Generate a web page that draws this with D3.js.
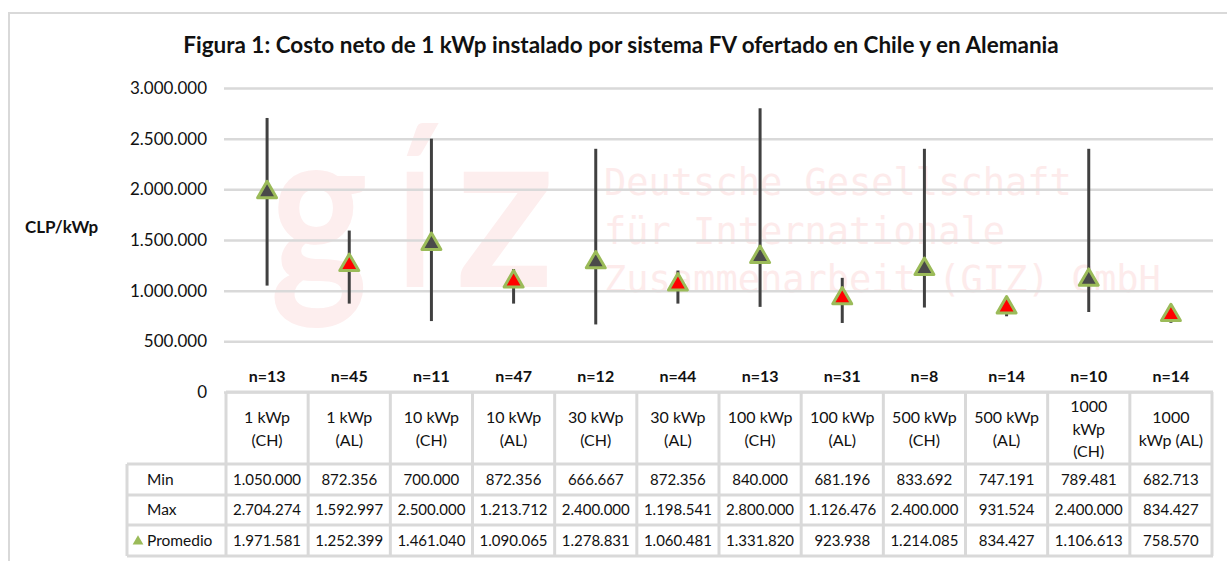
<!DOCTYPE html>
<html>
<head>
<meta charset="utf-8">
<script src="https://cdn.jsdelivr.net/npm/d3@7"></script>
<style>
  body { margin: 0; background: #fff; }
  text { font-family: Lato, "Noto Sans", sans-serif; fill: #111; }
</style>
</head>
<body>
<svg width="1227" height="561"></svg>
<script>
// datos (CLP/kWp)
var categories = ["1 kWp (CH)","1 kWp (AL)","10 kWp (CH)","10 kWp (AL)","30 kWp (CH)","30 kWp (AL)",
                  "100 kWp (CH)","100 kWp (AL)","500 kWp (CH)","500 kWp (AL)","1000 kWp (CH)","1000 kWp (AL)"];
var headerLines = [["1 kWp","(CH)"],["1 kWp","(AL)"],["10 kWp","(CH)"],["10 kWp","(AL)"],["30 kWp","(CH)"],["30 kWp","(AL)"],
                   ["100 kWp","(CH)"],["100 kWp","(AL)"],["500 kWp","(CH)"],["500 kWp","(AL)"],["1000","kWp","(CH)"],["1000","kWp (AL)"]];
var country = ["CH","AL","CH","AL","CH","AL","CH","AL","CH","AL","CH","AL"];
var nVals = [13,45,11,47,12,44,13,31,8,14,10,14];
var minVals = [1050000,872356,700000,872356,666667,872356,840000,681196,833692,747191,789481,682713];
var maxVals = [2704274,1592997,2500000,1213712,2400000,1198541,2800000,1126476,2400000,931524,2400000,834427];
var avgVals = [1971581,1252399,1461040,1090065,1278831,1060481,1331820,923938,1214085,834427,1106613,758570];
var yTicks = [0,500000,1000000,1500000,2000000,2500000,3000000];
var rowLabels = ["Min","Max","Promedio"];

var es = d3.formatLocale({decimal: ",", thousands: ".", grouping: [3], currency: ["$",""]});
var fmt = es.format(",d");

var svg = d3.select("svg");
var grid = "#d9d9d9";

// marco
svg.append("path")
    .attr("d", "M9,561 V13 H1227")
    .attr("fill", "none")
    .attr("stroke", grid)
    .attr("stroke-width", 2);

// marca de agua (logo giz)
var logo = svg.append("g")
    .style("font-family", "'Noto Sans', sans-serif")
    .style("font-weight", 700)
    .style("font-size", "224px");
[["g", 270, 98], ["í", 398, 34], ["z", 455, 100]].forEach(function(l) {
  logo.append("text")
      .attr("x", l[1]).attr("y", 287)
      .attr("textLength", l[2])
      .attr("lengthAdjust", "spacingAndGlyphs")
      .style("fill", "#fdeeee")
      .text(l[0]);
});

var wm = svg.append("text")
    .style("font-family", "'DejaVu Sans Mono', monospace")
    .style("font-size", "37px")
    .style("fill", "#fdebeb");
["Deutsche Gesellschaft","für Internationale","Zusammenarbeit (GIZ) GmbH"].forEach(function(s, i) {
  wm.append("tspan").attr("x", 604).attr("y", 195 + i * 48.5).text(s);
});

var x = d3.scaleBand()
    .domain(categories)
    .range([226, 1212]);

var y = d3.scaleLinear()
    .domain([0, 3000000])
    .range([392, 88]);

// eje Y + grilla
var yAxis = svg.append("g")
    .attr("transform", "translate(224,0)")
    .call(d3.axisLeft(y).tickValues(yTicks).tickFormat(fmt).tickSize(-(1213 - 224)).tickPadding(17));
yAxis.select(".domain").remove();
yAxis.selectAll(".tick line").attr("stroke", grid).attr("stroke-width", 2.5);
yAxis.selectAll(".tick text")
    .style("font-family", "Lato, sans-serif")
    .style("font-size", "17px")
    .attr("fill", "#111");

svg.append("text")
    .attr("x", 25).attr("y", 233)
    .style("font-weight", 700)
    .style("font-size", "17px")
    .text("CLP/kWp");

// título
var title = svg.append("text")
    .attr("x", 621).attr("y", 53)
    .attr("text-anchor", "middle")
    .style("font-weight", 700)
    .style("font-size", "20px")
    .text("Figura 1: Costo neto de 1 kWp instalado por sistema FV ofertado en Chile y en Alemania");
var tw = title.node().getComputedTextLength();
title.style("font-size", (20 * 876 / tw) + "px");

// rangos min-max
var cx = function(i) { return x(categories[i]) + x.bandwidth() / 2; };
svg.append("g").selectAll("line")
    .data(categories)
    .enter().append("line")
    .attr("x1", function(d, i) { return cx(i); })
    .attr("x2", function(d, i) { return cx(i); })
    .attr("y1", function(d, i) { return y(minVals[i]); })
    .attr("y2", function(d, i) { return y(maxVals[i]); })
    .attr("stroke", "#404040")
    .attr("stroke-width", 3);

// promedios
var tri = d3.symbol().type(d3.symbolTriangle).size(155);
svg.append("g").selectAll("path")
    .data(categories)
    .enter().append("path")
    .attr("d", tri)
    .attr("transform", function(d, i) { return "translate(" + cx(i) + "," + y(avgVals[i]) + ")"; })
    .attr("fill", function(d, i) { return country[i] == "CH" ? "#4a4a4a" : "#ff0000"; })
    .attr("stroke", "#9bbb59")
    .attr("stroke-width", 3)
    .attr("stroke-linejoin", "round");

// n=
svg.append("g").selectAll("text")
    .data(nVals)
    .enter().append("text")
    .attr("x", function(d, i) { return cx(i); })
    .attr("y", 382)
    .attr("text-anchor", "middle")
    .style("font-weight", 700)
    .style("font-size", "16px")
    .text(function(d) { return "n=" + d; });

// tabla
var rowTop = [392, 464, 495, 525, 556];
var tbl = svg.append("g");
var colEdges = [226].concat(categories.map(function(d) { return x(d) + x.bandwidth(); }));

// líneas horizontales
rowTop.forEach(function(ry, k) {
  tbl.append("line")
      .attr("x1", k == 0 ? 226 : 127).attr("x2", 1213)
      .attr("y1", ry).attr("y2", ry)
      .attr("stroke", grid).attr("stroke-width", 3);
});
// líneas verticales
colEdges.forEach(function(ex) {
  tbl.append("line")
      .attr("x1", ex).attr("x2", ex)
      .attr("y1", 392).attr("y2", 556)
      .attr("stroke", grid).attr("stroke-width", 3);
});
tbl.append("line")
    .attr("x1", 127).attr("x2", 127)
    .attr("y1", 464).attr("y2", 556)
    .attr("stroke", grid).attr("stroke-width", 3);

// encabezados
tbl.selectAll("text.hdr")
    .data(headerLines)
    .enter().append("text")
    .attr("class", "hdr")
    .attr("text-anchor", "middle")
    .style("font-size", "16px")
    .each(function(lines, i) {
      var t = d3.select(this);
      var y0 = 429.5 - (lines.length - 1) * 22.5 / 2 + 5;
      lines.forEach(function(s, j) {
        t.append("tspan").attr("x", cx(i)).attr("y", y0 + j * 22.5).text(s);
      });
    });

// filas de valores
[minVals, maxVals, avgVals].forEach(function(vals, r) {
  var yc = (rowTop[r + 1] + rowTop[r + 2]) / 2 + 5;
  tbl.append("g").selectAll("text")
      .data(vals)
      .enter().append("text")
      .attr("x", function(d, i) { return cx(i); })
      .attr("y", yc)
      .attr("text-anchor", "middle")
      .style("font-size", "15px")
      .text(function(d) { return fmt(d); });
  tbl.append("text")
      .attr("x", 147)
      .attr("y", yc)
      .style("font-size", "15.5px")
      .text(rowLabels[r]);
});

// símbolo de la leyenda
tbl.append("path")
    .attr("d", d3.symbol().type(d3.symbolTriangle).size(50))
    .attr("transform", "translate(138," + ((rowTop[3] + rowTop[4]) / 2 + 1) + ")")
    .attr("fill", "#9bbb59");
</script>
</body>
</html>
